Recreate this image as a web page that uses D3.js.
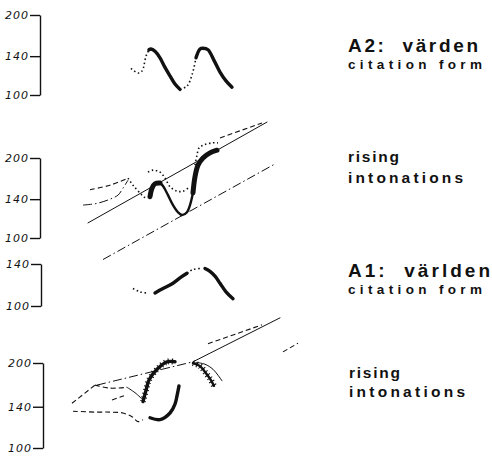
<!DOCTYPE html>
<html>
<head>
<meta charset="utf-8">
<script src="https://cdn.jsdelivr.net/npm/d3@7"></script>
<style>
  html, body { margin: 0; padding: 0; background: #fff; }
  svg { display: block; }
  .ax text { font-family: "DejaVu Sans", sans-serif; font-style: italic; font-size: 11px; letter-spacing: 1px; fill: #111; }
  .ax path, .ax line { stroke: #111; stroke-width: 1.4; }
  .lbl { font-family: "Liberation Sans", Arial, sans-serif; font-weight: bold; fill: #111; }
</style>
</head>
<body>
<svg id="chart" width="492" height="459"></svg>
<script>
// ---------- data (time in centiseconds, F0 in Hz) ----------
const ticksFull = [100, 140, 200];
const ticksShort = [100, 140];

// Panel 1: A2 värden, citation form
const p1Dot1   = [[71,126],[78,121],[82,123],[86,140],[89,148]];
const p1Thick1 = [[89,148],[91,149],[95,146],[100,138],[105,127],[110,118],[115,110],[120,105]];
const p1Dot2   = [[120,105],[127,108],[132,119],[136,138]];
const p1Thick2 = [[136,138],[140,149],[143,150],[148,148],[154,135],[160,122],[166,113],[172,107]];

// Panel 2: A2 värden, rising intonations
const p2Top     = [[28,114],[207,273]];
const p2Upper   = [[160,238],[202,271]];
const p2Lower   = [[43,83],[215,190]];
const p2DashA   = [[30,152],[50,158],[68,168]];
const p2DotFall = [[68,168],[73,158],[82,145],[87,140]];
const p2DashB   = [[23,133],[37,135],[50,140],[58,145],[63,154],[68,165]];
const p2ThickA  = [[90,143],[92,154],[95,160],[100,161]];
const p2ThickB  = [[100,161],[103,157],[108,145],[113,133],[118,125],[122,122],[127,125],[130,133],[133,148]];
const p2ThickC  = [[133,148],[135,170],[138,188],[143,200],[150,209],[157,214]];
const p2Dot     = [[88,177],[93,180],[100,177],[105,168],[110,156],[117,150],[123,150],[128,154]];
const p2DotRise = [[135,188],[137,205],[139,218],[144,224],[152,228],[158,228]];

// Panel 3: A1 världen, citation form
const p3Dot1   = [[73,115],[80,112],[87,111]];
const p3Thick1 = [[95,111],[103,115],[113,120],[121,126],[127,130]];
const p3Dot2   = [[127,130],[133,134],[140,135]];
const p3Thick2 = [[145,135],[150,132],[155,127],[160,120],[166,112],[173,106]];

// Panel 4: A1 världen, rising intonations
const p4Top       = [[37,167],[133,202]];
const p4TopSolid  = [[133,202],[220,289]];
const p4UpDash    = [[148,234],[202,273]];
const p4SmallDash = [[223,219],[238,235]];
const p4DashUL    = [[12,144],[35,167]];
const p4DashMid   = [[35,167],[50,163],[67,164]];
const p4Zig       = [[67,164],[75,157],[83,148]];
const p4Dash2     = [[52,148],[64,153]];
const p4Low       = [[13,135],[35,134],[50,134],[63,133],[72,129],[78,124],[83,126]];
const p4ArcUp     = [[83,146],[86,160],[89,174],[97,190],[107,202],[115,202]];
const p4ArcLow    = [[90,128],[100,126],[110,133],[115,143],[117,153],[119,166]];
const p4RightHatch= [[133,200],[140,195],[145,186],[150,176],[154,166]];
const p4RightThin = [[136,201],[145,198],[153,190],[158,181],[162,173]];

const titleA2 = "A2:\u00a0 värden";
const titleA1 = "A1:\u00a0 världen";
const subCitation = "citation form";
const subRising1 = "rising";
const subRising2 = "intonations";

// ---------- drawing ----------
const svg = d3.select("#chart");
const x = d3.scaleLinear().domain([0, 250]).range([60, 310]);

const styles = {
  thin:    {w: 1,   dash: null},
  dashdot: {w: 1,   dash: "9,3,1.5,3"},
  dashed:  {w: 1.1, dash: "5,3"},
  dotted:  {w: 1.6, dash: "1.5,2.6"},
  mid:     {w: 2.4, dash: null},
  thick:   {w: 3.4, dash: null},
  heavy:   {w: 5,   dash: null},
  hatch:   {w: 6,   dash: "1,2.8"}
};

function panel(domain, range, axisX, ticks) {
  const y = d3.scaleLog().domain(domain).range(range);
  const g = svg.append("g");
  g.append("g").attr("class", "ax")
    .attr("transform", `translate(${axisX},0)`)
    .call(d3.axisLeft(y).tickValues(ticks).tickSize(10).tickSizeOuter(0)
      .tickPadding(1).tickFormat(d3.format("d")));
  return {g, y};
}

function line(p, data, styleName, curve) {
  const s = styles[styleName];
  const gen = d3.line().x(d => x(d[0])).y(d => p.y(d[1]))
    .curve(curve || d3.curveCatmullRom);
  const path = p.g.append("path").datum(data).attr("d", gen)
    .attr("fill", "none").attr("stroke", "#111")
    .attr("stroke-width", s.w).attr("stroke-linecap", "round")
    .attr("stroke-linejoin", "round");
  if (s.dash) path.attr("stroke-dasharray", s.dash).attr("stroke-linecap", "butt");
  return path;
}

const P1 = panel([100, 200], [95, 15], 40, ticksFull);
line(P1, p1Dot1, "dotted");
line(P1, p1Thick1, "thick");
line(P1, p1Dot2, "dotted");
line(P1, p1Thick2, "thick");

const P2 = panel([100, 200], [238, 158], 40, ticksFull);
line(P2, p2Top, "thin", d3.curveLinear);
line(P2, p2Upper, "dashed", d3.curveLinear);
line(P2, p2Lower, "dashdot", d3.curveLinear);
line(P2, p2DashA, "dashed");
line(P2, p2DotFall, "dotted");
line(P2, p2DashB, "dashdot");
line(P2, p2Dot, "dotted");
line(P2, p2DotRise, "dotted");
line(P2, p2ThickA, "heavy");
line(P2, p2ThickB, "mid");
line(P2, p2ThickC, "heavy");

const P3 = panel([100, 140], [306, 264], 41, ticksShort);
line(P3, p3Dot1, "dotted");
line(P3, p3Thick1, "thick");
line(P3, p3Dot2, "dotted");
line(P3, p3Thick2, "thick");

const P4 = panel([100, 200], [448, 363], 43, ticksFull);
line(P4, p4Top, "dashdot", d3.curveLinear);
line(P4, p4TopSolid, "thin", d3.curveLinear);
line(P4, p4UpDash, "dashed", d3.curveLinear);
line(P4, p4SmallDash, "dashed", d3.curveLinear);
line(P4, p4DashUL, "dashed");
line(P4, p4DashMid, "dashed");
line(P4, p4Zig, "thin");
line(P4, p4Dash2, "dashed");
line(P4, p4Low, "dashed");
line(P4, p4ArcUp, "hatch");
line(P4, p4ArcUp, "thick");
line(P4, p4ArcLow, "thick");
line(P4, p4RightHatch, "hatch");
line(P4, p4RightHatch, "mid");
line(P4, p4RightThin, "thin");

// ---------- labels ----------
function label(txt, lx, ly, size, len) {
  svg.append("text").attr("class", "lbl")
    .attr("x", lx).attr("y", ly).attr("font-size", size)
    .attr("textLength", len).attr("lengthAdjust", "spacing")
    .text(txt);
}
label(titleA2, 348, 52, 19, 130);
label(subCitation, 348, 69, 13.5, 134);
label(subRising1, 348, 162, 15.5, 51);
label(subRising2, 348, 183, 15.5, 115);
label(titleA1, 348, 277, 19, 142);
label(subCitation, 348, 294, 13.5, 134);
label(subRising1, 349, 378, 15.5, 51);
label(subRising2, 349, 397, 15.5, 116);
</script>
</body>
</html>
